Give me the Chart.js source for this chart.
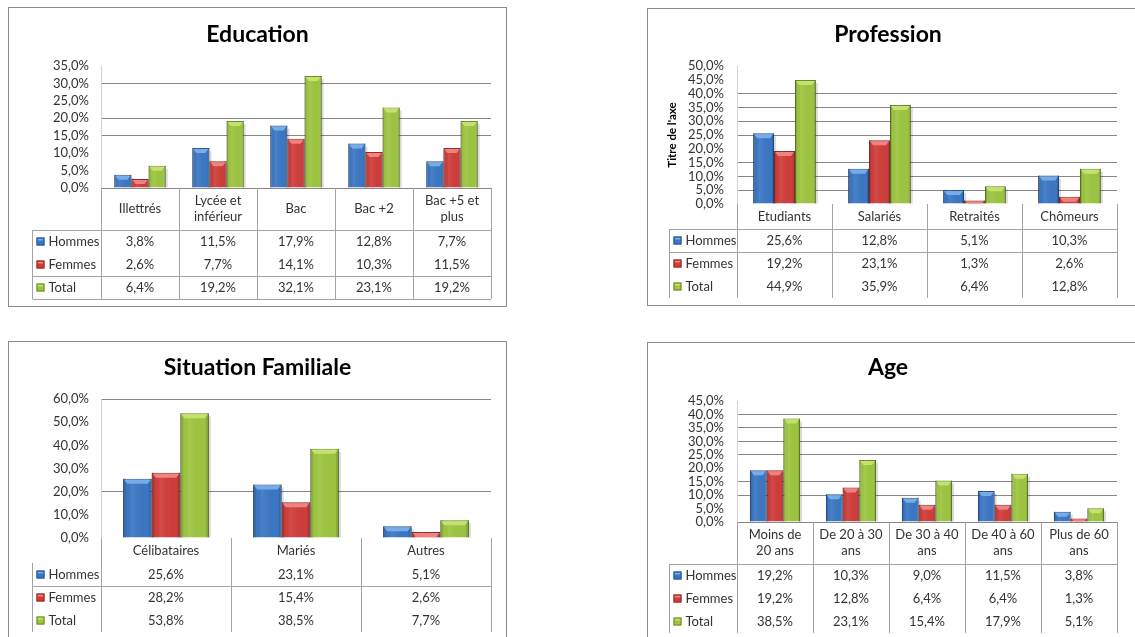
<!DOCTYPE html>
<html lang="fr">
<head>
<meta charset="utf-8">
<title>Répartition de l'échantillon</title>
<script src="https://cdn.jsdelivr.net/npm/chart.js@4"></script>
<style>
  body { margin: 0; background: #fff; overflow: hidden; width: 1135px; height: 637px; position: relative; }
  canvas { position: absolute; }
</style>
</head>
<body>
<canvas id="education" width="499" height="300" style="left:8px;top:7px"></canvas>
<canvas id="profession" width="490" height="298" style="left:647px;top:8px"></canvas>
<canvas id="famille" width="499" height="300" style="left:8px;top:341px"></canvas>
<canvas id="age" width="490" height="300" style="left:647px;top:342px"></canvas>
<script>
const seriesNames = ['Hommes', 'Femmes', 'Total'];

const eduCategories = ['Illettrés', ['Lycée et', 'inférieur'], 'Bac', 'Bac +2', ['Bac +5 et', 'plus']];
const eduHommes = [3.8, 11.5, 17.9, 12.8, 7.7];
const eduFemmes = [2.6, 7.7, 14.1, 10.3, 11.5];
const eduTotal  = [6.4, 19.2, 32.1, 23.1, 19.2];

const profCategories = ['Etudiants', 'Salariés', 'Retraités', 'Chômeurs'];
const profHommes = [25.6, 12.8, 5.1, 10.3];
const profFemmes = [19.2, 23.1, 1.3, 2.6];
const profTotal  = [44.9, 35.9, 6.4, 12.8];

const famCategories = ['Célibataires', 'Mariés', 'Autres'];
const famHommes = [25.6, 23.1, 5.1];
const famFemmes = [28.2, 15.4, 2.6];
const famTotal  = [53.8, 38.5, 7.7];

const ageCategories = [['Moins de', '20 ans'], ['De 20 à 30', 'ans'], ['De 30 à 40', 'ans'], ['De 40 à 60', 'ans'], ['Plus de 60', 'ans']];
const ageHommes = [19.2, 10.3, 9.0, 11.5, 3.8];
const ageFemmes = [19.2, 12.8, 6.4, 6.4, 1.3];
const ageTotal  = [38.5, 23.1, 15.4, 17.9, 5.1];

// y axis range per chart: [max, step]
const eduAxis = [35, 5];
const profAxis = [50, 5];
const famAxis = [60, 10];
const ageAxis = [45, 5];

const palette = [
  { fill: '#3B77C4', edge: '#28538F', cap: '#78ACE9' },
  { fill: '#CF3D3A', edge: '#962826', cap: '#EE8380' },
  { fill: '#9DC540', edge: '#6A8B28', cap: '#C4E26E' }
];

Chart.defaults.font.family = 'Lato, "Open Sans", sans-serif';

const pct = v => Number(v).toFixed(1).replace('.', ',') + '%';

function barBox(bar) {
  const p = bar.getProps(['x', 'y', 'base', 'width'], true);
  return { l: p.x - p.width / 2, r: p.x + p.width / 2, t: p.y, b: p.base, w: p.width };
}

// bevelled look on top of the plain bars
function shadeBar(ctx, b, col) {
  const h = b.b - b.t;
  if (h <= 0) return;
  const g = ctx.createLinearGradient(b.l, 0, b.r, 0);
  g.addColorStop(0, 'rgba(0,0,0,0.30)');
  g.addColorStop(0.13, 'rgba(0,0,0,0)');
  g.addColorStop(0.3, 'rgba(255,255,255,0.08)');
  g.addColorStop(0.87, 'rgba(0,0,0,0)');
  g.addColorStop(1, 'rgba(0,0,0,0.30)');
  ctx.fillStyle = g;
  ctx.fillRect(b.l, b.t, b.w, h);
  const cap = Math.min(5, h);
  ctx.fillStyle = col.cap;
  ctx.beginPath();
  ctx.moveTo(b.l + 1, b.t + 1);
  ctx.lineTo(b.r - 1, b.t + 1);
  ctx.lineTo(b.r - 4, b.t + cap);
  ctx.lineTo(b.l + 4, b.t + cap);
  ctx.closePath();
  ctx.fill();
}

function line(ctx, x1, y1, x2, y2) {
  ctx.beginPath();
  ctx.moveTo(x1, y1);
  ctx.lineTo(x2, y2);
  ctx.stroke();
}

// frame, title and the data table under the plot
function tableLayer(cfg) {
  return {
    id: 'dataTable',
    beforeDatasetsDraw(chart) {
      const ctx = chart.ctx;
      ctx.save();
      ctx.fillStyle = 'rgba(0,0,0,0.14)';
      chart.data.datasets.forEach((ds, i) => {
        chart.getDatasetMeta(i).data.forEach(bar => {
          const b = barBox(bar);
          if (b.b - b.t > 3) ctx.fillRect(b.r, b.t + 3, 2, b.b - b.t - 3);
        });
      });
      ctx.restore();
    },
    afterDatasetsDraw(chart) {
      const ctx = chart.ctx;
      ctx.save();
      chart.data.datasets.forEach((ds, i) => {
        chart.getDatasetMeta(i).data.forEach(bar => shadeBar(ctx, barBox(bar), palette[i]));
      });
      ctx.restore();
    },
    afterDraw(chart) {
      const ctx = chart.ctx;
      const { left, right, bottom } = chart.chartArea;
      const xs = chart.scales.x;
      const labels = chart.data.labels;
      const n = labels.length;
      const colW = (right - left) / n;
      const rowH = 23;
      const headBot = bottom + cfg.headerH;
      const tableBot = headBot + 3 * rowH;
      const lx = cfg.legendX + 0.5;

      ctx.save();
      ctx.strokeStyle = '#8a8a8a';
      ctx.lineWidth = 1;
      ctx.strokeRect(0.5, 0.5, chart.width - 1, chart.height - 1);

      ctx.fillStyle = '#000';
      ctx.font = 'bold 23px Lato';
      ctx.textAlign = 'center';
      ctx.textBaseline = 'middle';
      ctx.fillText(cfg.title, cfg.titleX, cfg.titleY);

      ctx.strokeStyle = '#a3a3a3';
      for (let i = 0; i <= n; i++) {
        const x = Math.round(left + i * colW) + 0.5;
        line(ctx, x, bottom, x, tableBot);
      }
      line(ctx, lx, headBot, lx, tableBot);
      cfg.rowLines.forEach(k => {
        const y = Math.round(headBot + (k - 1) * rowH) + 0.5;
        line(ctx, lx, y, right, y);
      });

      ctx.fillStyle = '#333';
      ctx.font = '13px Lato';
      labels.forEach((lab, i) => {
        const x = xs.getPixelForValue(i);
        const parts = Array.isArray(lab) ? lab : [lab];
        const mid = bottom + cfg.headerH / 2;
        parts.forEach((s, j) => {
          ctx.fillText(s, x, mid + (j - (parts.length - 1) / 2) * 16);
        });
      });

      chart.data.datasets.forEach((ds, r) => {
        const y = headBot + r * rowH + rowH / 2;
        const col = palette[r];
        ctx.fillStyle = col.fill;
        ctx.fillRect(lx + 4, y - 4, 8, 8);
        ctx.fillStyle = col.cap;
        ctx.fillRect(lx + 5, y - 3, 6, 2);
        ctx.strokeStyle = col.edge;
        ctx.strokeRect(lx + 4.5, y - 3.5, 7, 7);
        ctx.fillStyle = '#333';
        ctx.textAlign = 'left';
        ctx.fillText(ds.label, lx + 16, y);
        ctx.textAlign = 'center';
        ds.data.forEach((v, i) => ctx.fillText(pct(v), xs.getPixelForValue(i), y));
      });
      ctx.restore();
    }
  };
}

function buildChart(id, categories, series, axis, cfg) {
  const canvas = document.getElementById(id);
  const W = canvas.width, H = canvas.height;
  new Chart(canvas, {
    type: 'bar',
    data: {
      labels: categories,
      datasets: series.map((data, i) => ({
        label: seriesNames[i],
        data: data,
        backgroundColor: palette[i].fill,
        borderColor: palette[i].edge,
        borderWidth: 1,
        barPercentage: 1,
        categoryPercentage: 0.66
      }))
    },
    options: {
      responsive: false,
      animation: false,
      layout: { padding: { left: 0, top: cfg.plot.t, right: W - cfg.plot.r, bottom: H - cfg.plot.b } },
      plugins: {
        legend: { display: false },
        tooltip: { enabled: false },
        title: { display: false }
      },
      scales: {
        x: { display: false },
        y: {
          min: 0,
          max: axis[0],
          afterFit: s => { s.width = cfg.plot.l; },
          ticks: {
            stepSize: axis[1],
            autoSkip: false,
            padding: cfg.tickPad,
            color: '#333',
            font: { size: 13 },
            callback: v => pct(v)
          },
          grid: {
            drawTicks: false,
            color: c => (c.tick && cfg.grid.includes(c.tick.value)) ? '#878787' : 'rgba(0,0,0,0)'
          },
          border: { color: '#d2d2d2' },
          title: cfg.axisTitle
            ? { display: true, text: cfg.axisTitle, color: '#000', font: { size: 11.5, weight: 'bold' }, padding: { top: 18, bottom: 0 } }
            : { display: false }
        }
      }
    },
    plugins: [tableLayer(cfg)]
  });
}

buildChart('education', eduCategories, [eduHommes, eduFemmes, eduTotal], eduAxis, {
  title: 'Education', titleX: 249.5, titleY: 28,
  plot: { l: 93, t: 59, r: 483, b: 181 }, tickPad: 12,
  grid: [0, 15, 20, 30], legendX: 24, headerH: 42, rowLines: [1, 3, 4]
});

buildChart('profession', profCategories, [profHommes, profFemmes, profTotal], profAxis, {
  title: 'Profession', titleX: 241, titleY: 27,
  plot: { l: 90, t: 58, r: 470, b: 196 }, tickPad: 13, axisTitle: "Titre de l'axe",
  grid: [5, 10, 15, 25, 30, 35, 40], legendX: 22, headerH: 25, rowLines: [1, 2]
});

buildChart('famille', famCategories, [famHommes, famFemmes, famTotal], famAxis, {
  title: 'Situation Familiale', titleX: 249.5, titleY: 27,
  plot: { l: 93, t: 58, r: 483, b: 197 }, tickPad: 12,
  grid: [20, 60], legendX: 24, headerH: 25, rowLines: [2]
});

buildChart('age', ageCategories, [ageHommes, ageFemmes, ageTotal], ageAxis, {
  title: 'Age', titleX: 241, titleY: 26,
  plot: { l: 90, t: 59, r: 470, b: 180 }, tickPad: 13,
  grid: [0, 10, 15, 25, 30, 35, 40], legendX: 22, headerH: 42, rowLines: [1]
});
</script>
</body>
</html>
